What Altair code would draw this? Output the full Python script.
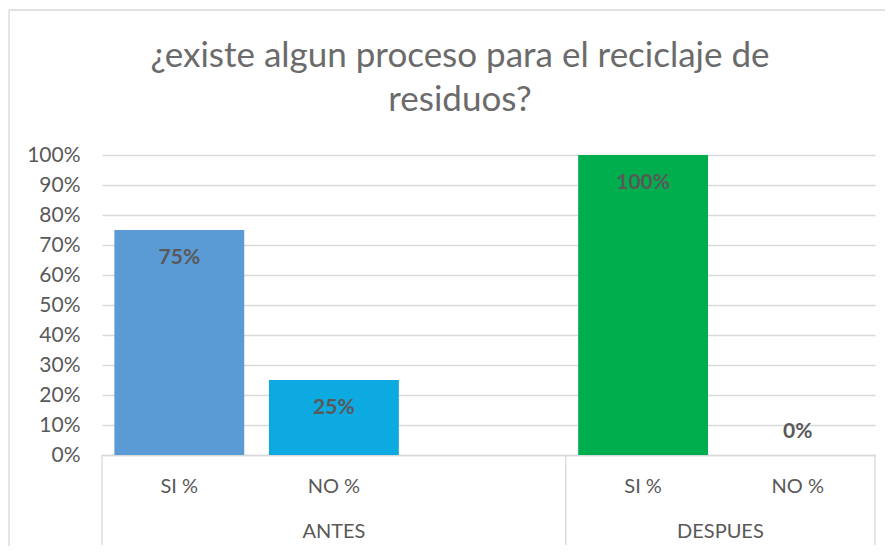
import altair as alt
import pandas as pd

# ---- data ----
grupos = ["ANTES", "ANTES", "DESPUES", "DESPUES"]
respuestas = ["SI %", "NO %", "SI %", "NO %"]
valores = [0.75, 0.25, 1.00, 0.00]
colores = ["#5B9BD5", "#0DA9E1", "#00AE4D", "#00AE4D"]
grupo_nombres = ["ANTES", "DESPUES"]
grupo_ranuras = [3, 2]  # category slots per group (ANTES keeps an empty slot)
ticks_y = [0, 0.1, 0.2, 0.3, 0.4, 0.5, 0.6, 0.7, 0.8, 0.9, 1.0]
titulo = ["¿existe algun proceso para el reciclaje de", "residuos?"]

FONT = "Lato"
GRAY = "#595959"
TGRAY = "#6B6B6B"
LINE = "#D9D9D9"

# ---- build tables ----
claves = [f"{g}|{r}" for g, r in zip(grupos, respuestas)]
dominio = []
for g, n in zip(grupo_nombres, grupo_ranuras):
    rs = [r for gg, r in zip(grupos, respuestas) if gg == g]
    rs += [""] * (n - len(rs))
    dominio += [f"{g}|{r}" for r in rs]

df = pd.DataFrame({"clave": claves, "grupo": grupos, "resp": respuestas, "valor": valores})

bordes = [0]
for n in grupo_ranuras:
    bordes.append(bordes[-1] + n)
centros = [(a + b) / 2 for a, b in zip(bordes[:-1], bordes[1:])]
df_bordes = pd.DataFrame({"borde": bordes})
df_grupos = pd.DataFrame({"grupo": grupo_nombres, "centro": centros})
df_uno = pd.DataFrame({"k": [0]})

W, H = 773, 300

bandscale = alt.Scale(domain=dominio, paddingInner=0.16, paddingOuter=0.08)
xaxis = alt.Axis(
    title=None, labelExpr="split(datum.label, '|')[1]", labelAngle=0,
    ticks=False, domain=True, domainColor=LINE, domainWidth=1.3,
    labelPadding=21, labelFontSize=20, labelColor=GRAY, labelFont=FONT,
    grid=False,
)
yscale = alt.Scale(domain=[0, 1], nice=False)
yaxis = alt.Axis(
    title=None, values=ticks_y, format=".0%", ticks=False, domain=False,
    labelPadding=22, labelFontSize=21, labelColor=GRAY, labelFont=FONT,
    gridColor=LINE, gridWidth=1.3, labelOverlap=False,
)

bars = alt.Chart(df).mark_bar().encode(
    x=alt.X("clave:N", scale=bandscale, axis=xaxis),
    y=alt.Y("valor:Q", scale=yscale, axis=yaxis),
    color=alt.Color("clave:N", scale=alt.Scale(domain=claves, range=colores), legend=None),
)

labels = alt.Chart(df).transform_calculate(
    ypos="datum.valor > 0 ? datum.valor - 0.093 : 0.077"
).mark_text(fontWeight="bold", fontSize=21, color=GRAY, font=FONT, baseline="middle").encode(
    x=alt.X("clave:N", scale=bandscale, axis=None),
    y=alt.Y("ypos:Q", scale=yscale, axis=yaxis),
    text=alt.Text("valor:Q", format=".0%"),
)

xq = alt.Scale(domain=[bordes[0], bordes[-1]], nice=False, zero=False)

separadores = alt.Chart(df_bordes).mark_rule(color=LINE, strokeWidth=1.3).encode(
    x=alt.X("borde:Q", scale=xq, axis=None),
    y=alt.value(H),
    y2=alt.value(H + 90),
)

nombres = alt.Chart(df_grupos).mark_text(fontSize=20, color=GRAY, font=FONT, baseline="middle").encode(
    x=alt.X("centro:Q", scale=xq, axis=None),
    y=alt.value(377),
    text="grupo:N",
)

marco_top = alt.Chart(df_uno).mark_rule(color=LINE, strokeWidth=1.3).encode(
    x=alt.value(-93), x2=alt.value(800), y=alt.value(-145)
)
marco_left = alt.Chart(df_uno).mark_rule(color=LINE, strokeWidth=1.3).encode(
    x=alt.value(-93), y=alt.value(-145), y2=alt.value(400)
)

titulo1 = alt.Chart(df_uno).mark_text(
    fontSize=35, color=TGRAY, font=FONT, align="center", baseline="alphabetic"
).encode(x=alt.value(358), y=alt.value(-88), text=alt.value(titulo[0]))
titulo2 = alt.Chart(df_uno).mark_text(
    fontSize=35, color=TGRAY, font=FONT, align="center", baseline="alphabetic"
).encode(x=alt.value(358), y=alt.value(-44), text=alt.value(titulo[1]))

chart = alt.layer(
    marco_top, marco_left, titulo1, titulo2, bars, labels, separadores, nombres
).resolve_scale(x="independent").properties(
    width=W, height=H,
    autosize=alt.AutoSizeParams(type="none"),
    padding={"left": 94, "top": 147, "right": 10, "bottom": 91},
).configure_view(stroke="transparent")

chart.save("out.html", embed_options={"renderer": "svg", "actions": False})
